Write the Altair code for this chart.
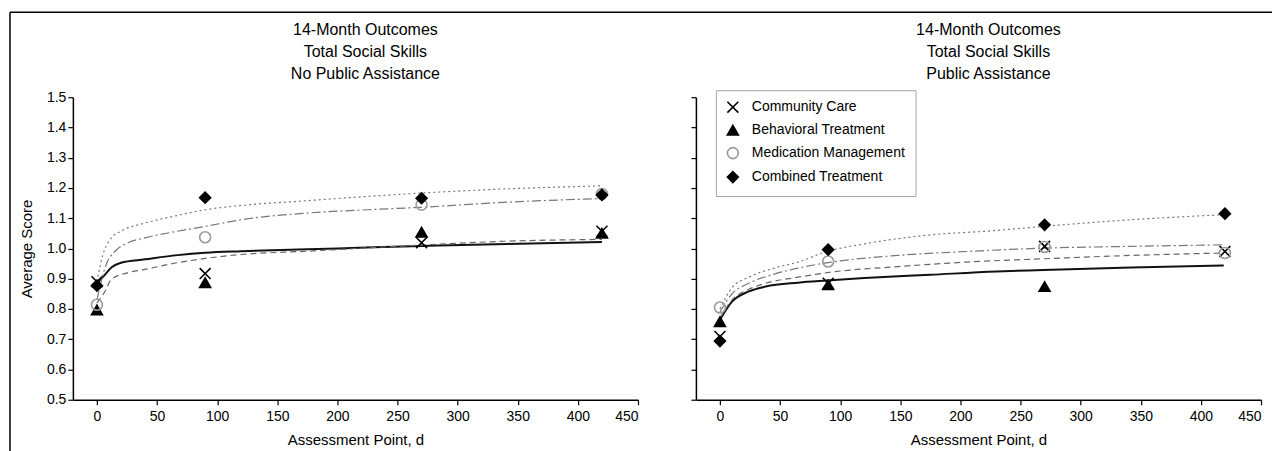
import altair as alt
import pandas as pd

FONT = "Liberation Sans, Arial, sans-serif"

GROUPS = ["Community Care", "Behavioral Treatment", "Medication Management", "Combined Treatment"]
PANELS = ["No Public Assistance", "Public Assistance"]
DAYS = [0, 90, 270, 420]
XTICKS = [0, 50, 100, 150, 200, 250, 300, 350, 400, 450]
YTICKS = [0.5, 0.6, 0.7, 0.8, 0.9, 1.0, 1.1, 1.2, 1.3, 1.4, 1.5]

# observed means - No Public Assistance
NPA_CC = [0.89, 0.917, 1.019, 1.057]
NPA_BT = [0.797, 0.887, 1.054, 1.05]
NPA_MM = [0.814, 1.037, 1.145, 1.18]
NPA_CT = [0.877, 1.168, 1.166, 1.177]
# observed means - Public Assistance
PA_CC = [0.709, 0.885, 1.007, 0.99]
PA_BT = [0.758, 0.88, 0.874, None]
PA_MM = [0.805, 0.957, 1.005, 0.985]
PA_CT = [0.694, 0.996, 1.078, 1.115]

# fitted curves - No Public Assistance
NPA_CC_FIT_X = [0, 6, 12, 20, 40, 67, 90, 120, 175, 230, 270, 341, 420]
NPA_CC_FIT_Y = [0.885, 0.91, 0.937, 0.953, 0.964, 0.978, 0.986, 0.991, 0.997, 1.004, 1.008, 1.015, 1.021]
NPA_BT_FIT_X = [0, 7, 12, 26, 40, 67, 90, 120, 175, 225, 269, 341, 420]
NPA_BT_FIT_Y = [0.82, 0.86, 0.898, 0.92, 0.931, 0.953, 0.967, 0.98, 0.991, 1.002, 1.011, 1.024, 1.03]
NPA_MM_FIT_X = [0, 8, 15, 26, 40, 67, 90, 120, 175, 225, 269, 341, 420]
NPA_MM_FIT_Y = [0.83, 0.95, 0.99, 1.019, 1.035, 1.057, 1.073, 1.095, 1.117, 1.128, 1.136, 1.153, 1.165]
NPA_CT_FIT_X = [0, 5, 8, 12, 20, 40, 67, 90, 120, 175, 225, 269, 341, 420]
NPA_CT_FIT_Y = [0.89, 0.98, 1.01, 1.035, 1.057, 1.084, 1.109, 1.128, 1.142, 1.158, 1.172, 1.183, 1.197, 1.207]
# fitted curves - Public Assistance
PA_CC_FIT_X = [0, 10, 24, 38, 65, 89, 120, 175, 230, 269, 342, 419]
PA_CC_FIT_Y = [0.764, 0.824, 0.858, 0.874, 0.887, 0.894, 0.902, 0.913, 0.924, 0.929, 0.937, 0.944]
PA_BT_FIT_X = [0, 10, 24, 38, 65, 93, 148, 205, 269, 342, 419]
PA_BT_FIT_Y = [0.77, 0.83, 0.865, 0.885, 0.905, 0.922, 0.94, 0.955, 0.966, 0.977, 0.985]
PA_MM_FIT_X = [0, 10, 24, 45, 65, 93, 148, 205, 269, 342, 419]
PA_MM_FIT_Y = [0.79, 0.85, 0.885, 0.915, 0.935, 0.955, 0.977, 0.99, 1.001, 1.007, 1.012]
PA_CT_FIT_X = [0, 10, 24, 45, 65, 89, 120, 175, 225, 269, 342, 416]
PA_CT_FIT_Y = [0.80, 0.87, 0.905, 0.935, 0.955, 0.99, 1.015, 1.045, 1.058, 1.073, 1.095, 1.111]

obs = {
    PANELS[0]: [NPA_CC, NPA_BT, NPA_MM, NPA_CT],
    PANELS[1]: [PA_CC, PA_BT, PA_MM, PA_CT],
}
fits = {
    PANELS[0]: [(NPA_CC_FIT_X, NPA_CC_FIT_Y), (NPA_BT_FIT_X, NPA_BT_FIT_Y),
                (NPA_MM_FIT_X, NPA_MM_FIT_Y), (NPA_CT_FIT_X, NPA_CT_FIT_Y)],
    PANELS[1]: [(PA_CC_FIT_X, PA_CC_FIT_Y), (PA_BT_FIT_X, PA_BT_FIT_Y),
                (PA_MM_FIT_X, PA_MM_FIT_Y), (PA_CT_FIT_X, PA_CT_FIT_Y)],
}

prow, crow = [], []
for p in PANELS:
    for g, vals in zip(GROUPS, obs[p]):
        for d, v in zip(DAYS, vals):
            if v is not None:
                prow.append({"panel": p, "group": g, "day": d, "score": v})
    for g, (xs, ys) in zip(GROUPS, fits[p]):
        for d, v in zip(xs, ys):
            crow.append({"panel": p, "group": g, "day": d, "score": v})
points = pd.DataFrame(prow)
curves = pd.DataFrame(crow)

LINE_STYLE = {
    "Community Care": dict(color="#111111", strokeWidth=2.0),
    "Behavioral Treatment": dict(color="#666666", strokeWidth=1.2, strokeDash=[6, 4]),
    "Medication Management": dict(color="#777777", strokeWidth=1.2, strokeDash=[9, 3, 2, 3]),
    "Combined Treatment": dict(color="#777777", strokeWidth=1.2, strokeDash=[2, 3]),
}
X_PATH = "M-1,-1L1,1M-1,1L1,-1"
NO_VIEW = alt.ViewBackground(stroke=None)


def panel(name, first):
    pts = points[points.panel == name]
    crv = curves[curves.panel == name]
    xax = alt.Axis(values=XTICKS, title="Assessment Point, d", grid=False,
                   labelFont=FONT, labelFontSize=14, labelColor="black", labelPadding=5,
                   titleFont=FONT, titleFontSize=15, titleFontWeight="normal", titleColor="black",
                   titlePadding=9, tickSize=5, tickColor="black", domainColor="black",
                   domainWidth=1.5, tickWidth=1.2)
    if first:
        yax = alt.Axis(values=YTICKS, format=".1f", title="Average Score", grid=False,
                       labelFont=FONT, labelFontSize=14, labelColor="black", labelPadding=2,
                       titleFont=FONT, titleFontSize=15, titleFontWeight="normal",
                       titleColor="black", titlePadding=12, tickSize=5, tickColor="black",
                       domainColor="black", domainWidth=1.5, tickWidth=1.2)
    else:
        yax = alt.Axis(values=YTICKS, labels=False, title=None, grid=False, tickSize=5,
                       tickColor="black", domainColor="black", domainWidth=1.5, tickWidth=1.2)
    x = alt.X("day:Q", scale=alt.Scale(domain=[-20, 450], nice=False, zero=False), axis=xax)
    y = alt.Y("score:Q", scale=alt.Scale(domain=[0.5, 1.5], nice=False, zero=False), axis=yax)

    layers = []
    for g in GROUPS:
        layers.append(
            alt.Chart(crv[crv.group == g]).mark_line(interpolate="monotone", **LINE_STYLE[g])
            .encode(x=x, y=y)
        )
    if first:
        leg = None
    else:
        leg = alt.Legend(title=None, orient="none", legendX=20, legendY=-7, padding=10,
                         rowPadding=6, symbolSize=120, symbolStrokeWidth=1.6,
                         labelFont=FONT, labelFontSize=14, labelColor="black",
                         labelOffset=12, labelLimit=400, strokeColor="#a5a5a5",
                         symbolOpacity=1)
    layers.append(
        alt.Chart(pts).mark_point(filled=True, opacity=1, size=120, strokeWidth=1.6).encode(
            x=x, y=y,
            shape=alt.Shape("group:N", scale=alt.Scale(domain=GROUPS,
                            range=[X_PATH, "triangle-up", "circle", "diamond"]), legend=leg),
            fill=alt.Fill("group:N", scale=alt.Scale(domain=GROUPS,
                          range=["transparent", "black", "transparent", "black"]), legend=leg),
            stroke=alt.Stroke("group:N", scale=alt.Scale(domain=GROUPS,
                              range=["black", "black", "#9a9a9a", "black"]), legend=leg),
        )
    )
    title = alt.TitleParams(
        text=["14-Month Outcomes", "Total Social Skills", name],
        font=FONT, fontSize=16, fontWeight="normal", color="black", anchor="middle",
        offset=8, lineHeight=22, dx=10,
    )
    return alt.layer(*layers).properties(width=566, height=303, title=title, view=NO_VIEW)


# figure frame (top and left edges), drawn from a one-pixel-wide empty cell placed first
frame = pd.DataFrame({"k": [0]})
frame_cell = alt.layer(
    alt.Chart(frame).mark_rule(color="black", strokeWidth=1.5).encode(
        x=alt.value(-4), x2=alt.value(1260), y=alt.value(-85)),
    alt.Chart(frame).mark_rule(color="black", strokeWidth=1.5).encode(
        x=alt.value(-4), y=alt.value(-85), y2=alt.value(355)),
).properties(width=1, height=303, view=NO_VIEW)

chart = alt.hconcat(frame_cell, panel(PANELS[0], True), panel(PANELS[1], False),
                    spacing=58, bounds="flush") \
    .resolve_scale(shape="independent", fill="independent", stroke="independent") \
    .properties(autosize=alt.AutoSizeParams(type="pad"),
                padding={"left": 9, "top": 11, "right": 0, "bottom": 0}) \
    .configure_view(stroke=None) \
    .configure(background="white")

chart.save("out.html", embed_options={"renderer": "svg", "actions": False})
